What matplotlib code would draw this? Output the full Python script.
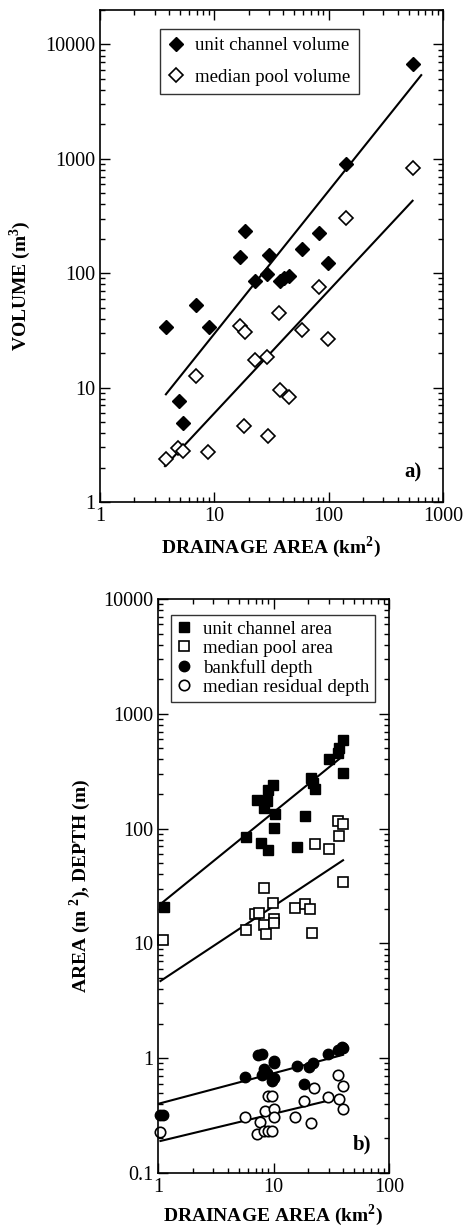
import numpy as np
import matplotlib
matplotlib.use("Agg")
import matplotlib.pyplot as plt
from matplotlib.ticker import LogLocator, FuncFormatter, NullFormatter

plt.rcParams['font.family'] = ['Liberation Serif', 'DejaVu Serif']
plt.rcParams['mathtext.fontset'] = 'custom'
plt.rcParams['mathtext.rm'] = 'Liberation Serif'
plt.rcParams['mathtext.bf'] = 'Liberation Serif:bold'

# ---- panel a) volumes vs drainage area ----
chan_vol_area = [3.8, 4.9, 5.3, 6.9, 8.9, 16.9, 18.5, 22.9, 28.6, 30.1,
                 37.3, 40.5, 45.0, 58.5, 82.3, 98.6, 143, 542]
chan_vol = [34, 7.6, 4.9, 53, 34, 138, 232, 85, 99, 145,
            86, 90, 95, 163, 224, 123, 902, 6720]

pool_vol_area = [3.8, 4.8, 5.3, 6.9, 8.8, 16.7, 18.1, 18.5, 22.9, 28.6,
                 29.5, 36.6, 37.9, 44.9, 58.5, 81.8, 98, 143, 542]
pool_vol = [2.36, 2.94, 2.8, 12.6, 2.71, 34.9, 4.6, 30.5, 17.6, 18.5,
            3.8, 44.7, 9.5, 8.3, 32.2, 76, 26.8, 303, 829]

# regression lines (end points)
chan_vol_fit_x = [3.77, 645]
chan_vol_fit_y = [8.74, 5390]
pool_vol_fit_x = [3.7, 542]
pool_vol_fit_y = [2.06, 430]

# ---- panel b) areas and depths vs drainage area ----
chan_area_x = [1.12, 5.78, 7.15, 7.8, 8.3, 8.7, 9.0, 9.0, 9.84, 10.0,
               10.3, 15.9, 18.7, 21.1, 22.0, 22.9, 30, 36.1, 37.1, 39.7, 39.7]
chan_area = [20.8, 85, 177, 75, 150, 174, 217, 65, 240, 102,
             133, 69, 129, 278, 251, 220, 402, 459, 507, 589, 303]

pool_area_x = [1.1, 5.74, 6.9, 7.5, 8.2, 8.28, 8.6, 9.84, 10.1, 10.1,
               15.4, 18.6, 20.7, 21.4, 22.9, 30, 36.4, 37.1, 39.7, 40]
pool_area = [10.8, 13.1, 17.9, 18.5, 14.4, 30.2, 12, 22.3, 16.2, 15.1,
             20.4, 21.9, 19.8, 12.2, 73, 67, 116, 86, 34.2, 109]

bank_x = [1.05, 1.1, 5.67, 7.4, 7.9, 8.0, 8.2, 8.7, 9.7, 10, 10, 10,
          15.9, 18.3, 20.4, 22, 29.8, 36.4, 38.9, 40]
bank_depth = [0.32, 0.32, 0.68, 1.06, 0.72, 1.08, 0.8, 0.74, 0.63, 0.91, 0.67, 0.94,
              0.85, 0.6, 0.83, 0.91, 1.08, 1.19, 1.25, 1.22]

resid_x = [1.05, 5.67, 7.15, 7.6, 8.3, 8.5, 9.0, 9.0, 9.8, 9.8, 10, 10,
           15.3, 18.5, 21.1, 22.6, 29.8, 36, 37.1, 39.7, 39.7]
resid_depth = [0.226, 0.31, 0.22, 0.28, 0.234, 0.345, 0.234, 0.47, 0.23, 0.47, 0.36, 0.31,
               0.31, 0.42, 0.27, 0.55, 0.46, 0.71, 0.44, 0.57, 0.36]

chan_area_fit_x = [1.05, 39]
chan_area_fit_y = [22, 421]
pool_area_fit_x = [1.05, 40]
pool_area_fit_y = [4.7, 53]
bank_fit_x = [1.0, 40]
bank_fit_y = [0.40, 1.07]
resid_fit_x = [1.05, 37]
resid_fit_y = [0.19, 0.45]

TICK_FS = 14.5
LABEL_FS = 14
LEG_FS = 13.6


def log_fmt(v, pos):
    return '%g' % v


def style_log_axes(ax):
    ax.set_xscale('log')
    ax.set_yscale('log')
    for axis in (ax.xaxis, ax.yaxis):
        axis.set_major_locator(LogLocator(base=10))
        axis.set_minor_locator(LogLocator(base=10, subs=np.arange(2, 10)))
        axis.set_major_formatter(FuncFormatter(log_fmt))
        axis.set_minor_formatter(NullFormatter())
    ax.tick_params(which='both', direction='in', top=True, right=True,
                   labelsize=TICK_FS, width=1.0)
    ax.tick_params(which='major', length=7)
    ax.tick_params(which='minor', length=3.5)
    for s in ax.spines.values():
        s.set_linewidth(1.2)


fig = plt.figure(figsize=(4.65, 12.31), dpi=100)

# panel a
ax1 = fig.add_axes([100 / 465, 1 - 502 / 1231, 343 / 465, 492 / 1231])
style_log_axes(ax1)
ax1.plot(chan_vol_fit_x, chan_vol_fit_y, color='black', lw=1.5)
ax1.plot(pool_vol_fit_x, pool_vol_fit_y, color='black', lw=1.5)
ax1.plot(chan_vol_area, chan_vol, 'D', ms=7.5, mfc='black', mec='black',
         ls='none', label='unit channel volume')
ax1.plot(pool_vol_area, pool_vol, 'D', ms=7.5, mfc='white', mec='black', mew=1.2,
         ls='none', label='median pool volume')
ax1.set_xlim(1, 1000)
ax1.set_ylim(1, 20000)
ax1.set_xlabel(r'DRAINAGE AREA (km$^{\mathbf{2}}$)', fontsize=LABEL_FS,
               fontweight='bold', labelpad=6)
ax1.set_ylabel(r'VOLUME (m$^{\mathbf{3}}$)', fontsize=LABEL_FS, fontweight='bold')
ax1.yaxis.set_label_coords(-0.195, 0.44)
ax1.text(0.913, 0.06, 'a)', transform=ax1.transAxes, fontsize=15,
         fontweight='bold', ha='center', va='center')
leg1 = ax1.legend(loc='upper left', bbox_to_anchor=(0.175, 0.962), borderaxespad=0,
                  fontsize=LEG_FS, frameon=True, fancybox=False, edgecolor='black',
                  handlelength=0.8, handletextpad=0.6, labelspacing=0.75,
                  borderpad=0.45, numpoints=1)
leg1.get_frame().set_linewidth(1.0)

# panel b
ax2 = fig.add_axes([158 / 465, 1 - 1173 / 1231, 231 / 465, 574 / 1231])
style_log_axes(ax2)
for fx, fy in [(chan_area_fit_x, chan_area_fit_y), (pool_area_fit_x, pool_area_fit_y),
               (bank_fit_x, bank_fit_y), (resid_fit_x, resid_fit_y)]:
    ax2.plot(fx, fy, color='black', lw=1.5)
ax2.plot(chan_area_x, chan_area, 's', ms=7.5, mfc='black', mec='black',
         ls='none', label='unit channel area', clip_on=False)
ax2.plot(pool_area_x, pool_area, 's', ms=7.5, mfc='white', mec='black', mew=1.2,
         ls='none', label='median pool area', clip_on=False)
ax2.plot(bank_x, bank_depth, 'o', ms=7.5, mfc='black', mec='black',
         ls='none', label='bankfull depth', clip_on=False)
ax2.plot(resid_x, resid_depth, 'o', ms=7.5, mfc='white', mec='black', mew=1.2,
         ls='none', label='median residual depth', clip_on=False)
ax2.set_xlim(1, 100)
ax2.set_ylim(0.1, 10000)
ax2.set_xlabel(r'DRAINAGE AREA (km$^{\mathbf{2}}$)', fontsize=LABEL_FS,
               fontweight='bold', labelpad=4)
ax2.set_ylabel(r'AREA (m $^{\mathbf{2}}$), DEPTH (m)', fontsize=LABEL_FS,
               fontweight='bold')
ax2.yaxis.set_label_coords(-0.281, 0.5)
ax2.text(0.883, 0.05, 'b)', transform=ax2.transAxes, fontsize=15,
         fontweight='bold', ha='center', va='center')
leg2 = ax2.legend(loc='upper left', bbox_to_anchor=(0.056, 0.972), borderaxespad=0,
                  fontsize=LEG_FS, frameon=True, fancybox=False, edgecolor='black',
                  handlelength=0.8, handletextpad=0.6, labelspacing=0.1,
                  borderpad=0.3, numpoints=1)
leg2.get_frame().set_linewidth(1.0)

fig.savefig('out.png', dpi=100, facecolor='white')
